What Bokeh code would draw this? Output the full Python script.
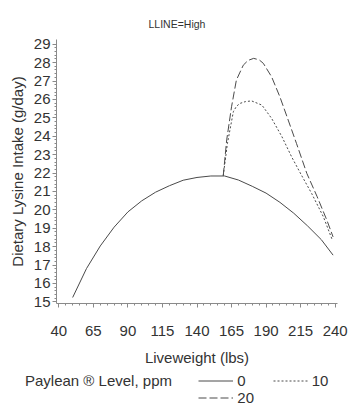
from bokeh.plotting import figure
from bokeh.layouts import column, row
from bokeh.models import Range1d, FixedTicker, Legend, LegendItem
from bokeh.embed import file_html
from bokeh.resources import INLINE

# ---- data ----
x_ticks = [40, 65, 90, 115, 140, 165, 190, 215, 240]
x_minor = list(range(40, 245, 5))
y_ticks = list(range(15, 30))
y_minor = [15 + i * 0.2 for i in range(0, 71)]

x0 = [50, 60, 70, 80, 90, 100, 110, 120, 130, 140, 150, 160, 170, 180, 190, 200, 210, 220, 230, 238.5]
y0 = [15.24, 16.81, 18.04, 19.06, 19.89, 20.49, 20.96, 21.31, 21.61, 21.76, 21.84, 21.84, 21.62, 21.28,
      20.91, 20.41, 19.82, 19.13, 18.38, 17.54]

x10 = [159, 162, 166.3, 168.5, 171, 175, 179.5, 187, 194, 201.5, 208.5, 215.5, 223, 231.5, 238]
y10 = [21.85, 23.6, 25.33, 25.62, 25.78, 25.88, 25.92, 25.69, 24.97, 23.97, 22.88, 21.9, 20.89, 19.62, 18.35]

x20 = [159, 161.5, 165, 168.5, 173.5, 177, 181, 185, 188, 194, 200, 206, 212, 219.5, 227, 234, 238.5]
y20 = [21.85, 23.8, 25.6, 27.05, 27.86, 28.12, 28.23, 28.15, 27.96, 27.23, 26.14, 24.88, 23.61, 21.98,
       20.71, 19.44, 18.53]

levels = ["0", "10", "20"]
legend_title = "Paylean \u00ae Level, ppm"

FONT = "Liberation Sans"
TXT = "#333333"
AX = "#8a8a8a"
LC = "#4a4a4a"
DASH10 = "2 2"
DASH20 = "8 3"

p = figure(width=363, height=372, output_backend="svg", toolbar_location=None,
           x_range=Range1d(38.3, 241.7), y_range=Range1d(14.913, 29.255),
           min_border_left=56, min_border_right=26, min_border_top=39, min_border_bottom=69)
p.outline_line_color = None
p.grid.visible = False

p.title.text = "LLINE=High"
p.title.align = "left"
p.title.offset = 92
p.title.standoff = 20
p.title.text_font = FONT
p.title.text_font_size = "10.5px"
p.title.text_font_style = "normal"
p.title.text_color = TXT

p.line(x0, y0, line_color=LC, line_width=1)
p.line(x10, y10, line_color=LC, line_width=1, line_dash=DASH10)
p.line(x20, y20, line_color=LC, line_width=1, line_dash=DASH20)

for ax in (p.xaxis[0], p.yaxis[0]):
    ax.axis_line_color = AX
    ax.major_tick_line_color = AX
    ax.minor_tick_line_color = AX
    ax.major_tick_in = 0
    ax.major_tick_out = 4
    ax.minor_tick_in = 0
    ax.minor_tick_out = 2
    ax.major_label_text_font = FONT
    ax.major_label_text_font_size = "15px"
    ax.major_label_text_color = TXT
    ax.axis_label_text_font = FONT
    ax.axis_label_text_font_size = "15px"
    ax.axis_label_text_font_style = "normal"
    ax.axis_label_text_color = TXT

p.xaxis.ticker = FixedTicker(ticks=x_ticks, minor_ticks=x_minor)
p.yaxis.ticker = FixedTicker(ticks=y_ticks, minor_ticks=y_minor)
p.xaxis.axis_label = "Liveweight (lbs)"
p.yaxis.axis_label = "Dietary Lysine Intake (g/day)"
p.xaxis.major_label_standoff = 18
p.xaxis.axis_label_standoff = 10
p.yaxis.major_label_standoff = 2
p.yaxis.axis_label_standoff = 5

# ---- legend strip below the chart (proxy renderers lie outside its view) ----
q = figure(width=363, height=41, output_backend="svg", toolbar_location=None,
           x_range=Range1d(0, 1), y_range=Range1d(0, 1),
           min_border=0, x_axis_type=None, y_axis_type=None)
q.outline_line_color = None
q.grid.visible = False

k0 = q.line(x0, y0, line_color=LC, line_width=1)
k10 = q.line(x10, y10, line_color=LC, line_width=1, line_dash=DASH10)
k20 = q.line(x20, y20, line_color=LC, line_width=1, line_dash=DASH20)


def mk_legend(label, rend, loc, gw=35, standoff=4):
    lg = Legend(items=[LegendItem(label=label, renderers=[rend])], location=loc,
                orientation="horizontal", padding=0, margin=0, spacing=0,
                border_line_color=None, background_fill_alpha=0,
                glyph_width=gw, glyph_height=17, label_height=17, label_standoff=standoff,
                label_text_font=FONT, label_text_font_size="15px", label_text_color=TXT)
    q.add_layout(lg, "center")


# header text (zero-width key) and the three keys
mk_legend(legend_title, k0, (25, 24.5), gw=0, standoff=0)
mk_legend(levels[0], k0, (198.3, 24.5))
mk_legend(levels[1], k10, (272.7, 24.5))
mk_legend(levels[2], k20, (198.3, 7.2))

layout = column(p, row(q), spacing=0)
open("out.html", "w").write(file_html(layout, INLINE))
